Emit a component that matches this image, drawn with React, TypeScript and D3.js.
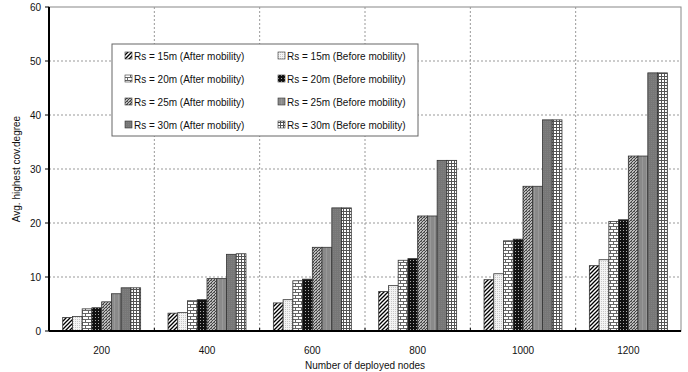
import { useEffect, useRef } from 'react'
import * as d3 from 'd3'

const nodes = ['200', '400', '600', '800', '1000', '1200']
const seriesNames = [
  'Rs = 15m (After mobility)',
  'Rs = 15m (Before mobility)',
  'Rs = 20m (After mobility)',
  'Rs = 20m (Before mobility)',
  'Rs = 25m (After mobility)',
  'Rs = 25m (Before mobility)',
  'Rs = 30m (After mobility)',
  'Rs = 30m (Before mobility)',
]
// values per node count, in series order
const values = [
  [2.5, 2.7, 4.1, 4.3, 5.4, 6.9, 8.0, 8.0],       // 200
  [3.3, 3.4, 5.6, 5.8, 9.7, 9.7, 14.2, 14.3],     // 400
  [5.2, 5.8, 9.3, 9.6, 15.5, 15.5, 22.8, 22.8],   // 600
  [7.3, 8.4, 13.1, 13.4, 21.3, 21.3, 31.6, 31.6], // 800
  [9.5, 10.6, 16.7, 17.0, 26.8, 26.8, 39.1, 39.1], // 1000
  [12.1, 13.2, 20.3, 20.6, 32.4, 32.4, 47.8, 47.8], // 1200
]
const yTicks = [0, 10, 20, 30, 40, 50, 60]

export default function CoverageChart() {
  const ref = useRef<HTMLDivElement>(null)

  useEffect(() => {
    if (!ref.current) return
    document.body.style.margin = '0'
    const container = ref.current
    container.innerHTML = ''

    const width = 688, height = 372
    const margin = { top: 7, right: 7, bottom: 41, left: 49 }
    const innerW = width - margin.left - margin.right
    const innerH = height - margin.top - margin.bottom
    const font = 'Liberation Sans, Arial, sans-serif'
    const ink = '#111'

    const svg = d3.select(container).append('svg')
      .attr('width', width).attr('height', height)
      .style('display', 'block')
      .style('font-family', font)

    const defs = svg.append('defs')
    const pat = (id: string, size: number, bg: string, draw: (g: any) => void) => {
      const p = defs.append('pattern').attr('id', id).attr('patternUnits', 'userSpaceOnUse')
        .attr('width', size).attr('height', size)
      p.append('rect').attr('width', size).attr('height', size).attr('fill', bg)
      draw(p)
    }
    // 1: diagonal hatch
    pat('p0', 4, '#fff', g => {
      g.append('path').attr('d', 'M-1,1 l2,-2 M0,4 l4,-4 M3,5 l2,-2').attr('stroke', '#000').attr('stroke-width', 1.3)
    })
    // 2: light stipple
    pat('p1', 2, '#f4f4f4', g => {
      g.append('rect').attr('width', 1).attr('height', 1).attr('fill', '#c8c8c8')
    })
    // 3: brick
    pat('p2', 6, '#fff', g => {
      g.append('path').attr('d', 'M0,0.5 H6 M0,3.5 H6 M0.5,0 V3.5 M3.5,3.5 V6').attr('stroke', '#666').attr('stroke-width', 1)
    })
    // 4: black with white dots
    pat('p3', 3, '#111', g => {
      g.append('rect').attr('x', 1).attr('y', 1).attr('width', 1).attr('height', 1).attr('fill', '#aaa')
    })
    // 5: grey checkered diagonal
    pat('p4', 3, '#bbb', g => {
      g.append('path').attr('d', 'M0,3 L3,0').attr('stroke', '#444').attr('stroke-width', 1)
      g.append('rect').attr('x', 0).attr('y', 0).attr('width', 1).attr('height', 1).attr('fill', '#666')
    })
    // 6: medium grey
    pat('p5', 4, '#8a8a8a', g => {
      g.append('rect').attr('x', 1).attr('width', 1).attr('height', 4).attr('fill', '#999')
    })
    // 7: darker grey
    pat('p6', 2, '#777', g => {
      g.append('rect').attr('width', 1).attr('height', 1).attr('fill', '#808080')
    })
    // 8: grid
    pat('p7', 3, '#fff', g => {
      g.append('path').attr('d', 'M0,0.5 H3 M0.5,0 V3').attr('stroke', '#555').attr('stroke-width', 1)
    })

    const g = svg.append('g').attr('transform', `translate(${margin.left},${margin.top})`)

    const x0 = d3.scaleBand().domain(nodes).range([0, innerW]).paddingInner(0.26).paddingOuter(0.13)
    const x1 = d3.scaleBand().domain(seriesNames).range([0, x0.bandwidth()])
    const y = d3.scaleLinear().domain([0, 60]).range([innerH, 0])

    // frame (top/right)
    g.append('rect').attr('width', innerW).attr('height', innerH)
      .attr('fill', 'none').attr('stroke', '#888').attr('stroke-width', 1)

    // horizontal gridlines
    yTicks.filter(t => t > 0 && t < 60).forEach(t => {
      g.append('line').attr('x1', 0).attr('x2', innerW).attr('y1', y(t)).attr('y2', y(t))
        .attr('stroke', '#999').attr('stroke-dasharray', '2,2').attr('stroke-width', 1)
    })
    // vertical gridlines at category boundaries
    const step = innerW / nodes.length
    d3.range(1, nodes.length).forEach(i => {
      g.append('line').attr('x1', i * step).attr('x2', i * step).attr('y1', 0).attr('y2', innerH)
        .attr('stroke', '#999').attr('stroke-dasharray', '2,2').attr('stroke-width', 1)
      g.append('line').attr('x1', i * step).attr('x2', i * step).attr('y1', innerH - 3).attr('y2', innerH)
        .attr('stroke', '#000').attr('stroke-width', 1)
    })

    // bars
    values.forEach((row, ci) => {
      row.forEach((v, si) => {
        g.append('rect')
          .attr('x', (x0(nodes[ci]) ?? 0) + (x1(seriesNames[si]) ?? 0))
          .attr('y', y(v))
          .attr('width', x1.bandwidth())
          .attr('height', innerH - y(v))
          .attr('fill', `url(#p${si})`)
          .attr('stroke', '#333').attr('stroke-width', 0.8)
      })
    })

    // axes lines
    g.append('line').attr('x1', 0).attr('x2', 0).attr('y1', 0).attr('y2', innerH).attr('stroke', '#000').attr('stroke-width', 2)
    g.append('line').attr('x1', 0).attr('x2', innerW).attr('y1', innerH).attr('y2', innerH).attr('stroke', '#000').attr('stroke-width', 2)

    // y tick labels
    yTicks.forEach(t => {
      g.append('line').attr('x1', -4).attr('x2', 0).attr('y1', y(t)).attr('y2', y(t)).attr('stroke', '#000')
      g.append('text').attr('x', -8).attr('y', y(t) + 3.5).attr('text-anchor', 'end')
        .style('font-size', '10px').style('fill', ink).text(t)
    })
    // x tick labels
    nodes.forEach(n => {
      g.append('text').attr('x', (x0(n) ?? 0) + x0.bandwidth() / 2).attr('y', innerH + 23)
        .attr('text-anchor', 'middle').style('font-size', '10px').style('fill', ink).text(n)
    })

    svg.append('text').attr('x', margin.left + innerW / 2).attr('y', 369).attr('text-anchor', 'middle')
      .style('font-size', '10px').style('fill', ink).text('Number of deployed nodes')
    svg.append('text').attr('transform', `translate(20,${margin.top + innerH / 2}) rotate(-90)`)
      .attr('text-anchor', 'middle').style('font-size', '10px').style('fill', ink).text('Avg. highest cov.degree')

    // legend
    const lg = svg.append('g').attr('transform', 'translate(112,44)')
    lg.append('rect').attr('width', 306).attr('height', 92).attr('fill', '#fff').attr('stroke', '#666').attr('stroke-width', 1)
    seriesNames.forEach((s, i) => {
      const col = i % 2, row = Math.floor(i / 2)
      const lx = col === 0 ? 13 : 166
      const ly = 12 + row * 23
      lg.append('rect').attr('x', lx).attr('y', ly - 4).attr('width', 7).attr('height', 7)
        .attr('fill', `url(#p${i})`).attr('stroke', '#333').attr('stroke-width', 0.6)
      lg.append('text').attr('x', lx + 9).attr('y', ly + 3.5)
        .style('font-size', '10px').style('fill', ink).text(s)
    })

    return () => { container.innerHTML = '' }
  }, [])

  return <div ref={ref} />
}
